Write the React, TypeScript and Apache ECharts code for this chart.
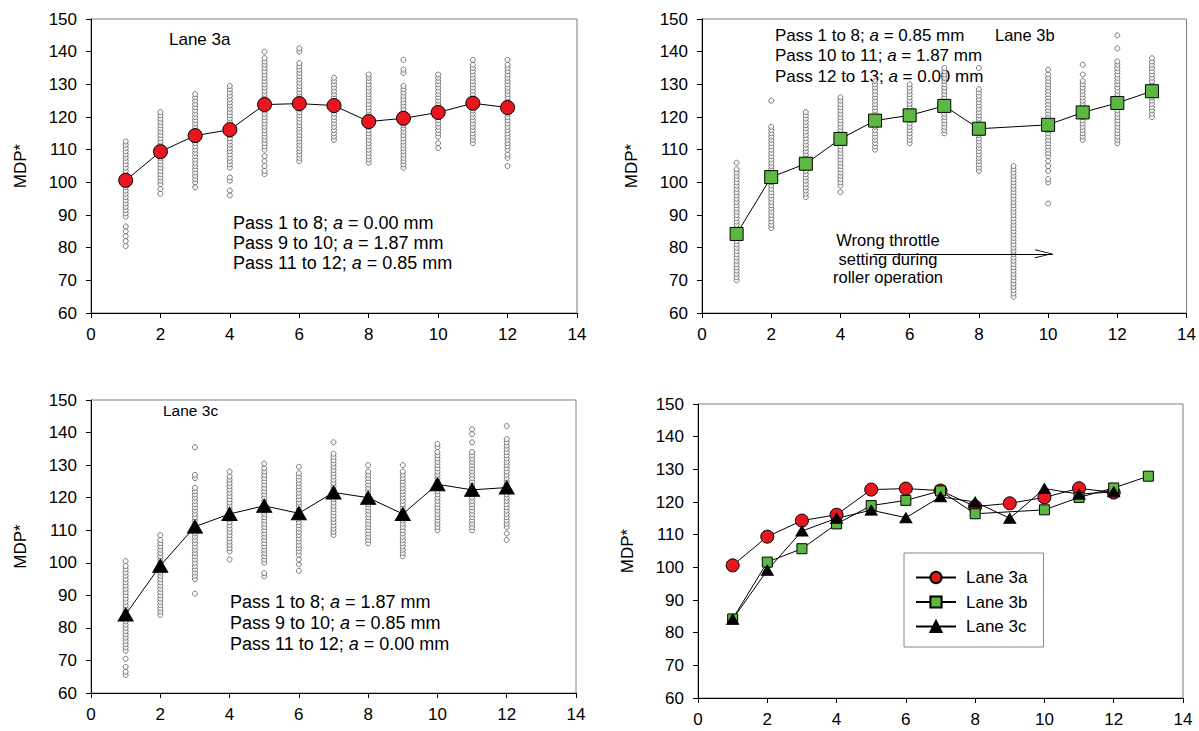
import React, { useEffect, useRef } from "react";
import * as echarts from "echarts";

// ---------- DATA ----------
const passes3a = [1, 2, 3, 4, 5, 6, 7, 8, 9, 10, 11, 12];
const mean3a = [100.6, 109.4, 114.3, 116.1, 123.8, 124.1, 123.5, 118.6, 119.6, 121.4, 124.2, 122.9];

const passes3b = [1, 2, 3, 4, 5, 6, 7, 8, 10, 11, 12, 13];
const mean3b = [84.2, 101.6, 105.7, 113.3, 118.9, 120.5, 123.4, 116.4, 117.6, 121.4, 124.3, 127.9];

const passes3c = [1, 2, 3, 4, 5, 6, 7, 8, 9, 10, 11, 12];
const mean3c = [84.1, 99.1, 111.1, 115.0, 117.5, 115.2, 121.6, 120.0, 115.0, 124.1, 122.4, 123.1];

// individual MDP* readings per pass (index 0 = pass 1)
const points3a: number[][] = [
  [80.5, 82, 83.5, 85, 86.5, 89.5, 90.5, 91.5, 92.5, 93.5, 94.5, 95.5, 96.5, 97.5, 98.5, 99.5, 100.5, 101.5, 102.5, 103.5, 104.5, 105.5, 106.5, 107.5, 108.5, 109.5, 110.5, 111.5, 112.5],
  [96.5, 98, 99.5, 100.5, 101.5, 102.5, 103.5, 104.5, 105.5, 106.5, 107.5, 108.5, 109.5, 110.5, 111.5, 112.5, 113.5, 114.5, 115.5, 116.5, 117.5, 118.5, 119.5, 120.5, 121.5],
  [98.5, 100, 101, 102, 103, 104, 105, 106, 107, 108, 109, 110, 111, 112, 113, 114, 115, 116, 117, 118, 119, 120, 121, 122, 123, 124, 125, 126, 127],
  [96, 97.5, 100.5, 101.5, 104.5, 105.5, 106.5, 107.5, 108.5, 109.5, 110.5, 111.5, 112.5, 113.5, 114.5, 115.5, 116.5, 117.5, 118.5, 119.5, 120.5, 121.5, 122.5, 123.5, 124.5, 125.5, 126.5, 127.5, 128.5, 129.5],
  [102.5, 103.5, 105, 106.5, 108, 110, 111, 112, 113, 114, 115, 116, 117, 118, 119, 120, 121, 122, 123, 124, 125, 126, 127, 128, 129, 130, 131, 132, 133, 134, 135, 136, 137, 138, 140],
  [106.5, 107.5, 108.5, 109.5, 110.5, 111.5, 112.5, 113.5, 114.5, 115.5, 116.5, 117.5, 118.5, 119.5, 120.5, 121.5, 122.5, 123.5, 124.5, 125.5, 126.5, 127.5, 128.5, 129.5, 130.5, 131.5, 132.5, 133.5, 134.5, 135.5, 136.5, 140, 141],
  [113, 114, 115, 116, 117, 118, 119, 120, 121, 122, 123, 124, 125, 126, 127, 128, 129, 130, 131, 132],
  [106, 107, 108, 109, 110, 111, 112, 113, 114, 115, 116, 117, 118, 119, 120, 121, 122, 123, 124, 125, 126, 127, 128, 129, 130, 131, 132, 133],
  [104.5, 105.5, 106.5, 107.5, 108.5, 109.5, 110.5, 111.5, 112.5, 113.5, 114.5, 115.5, 116.5, 117.5, 118.5, 119.5, 120.5, 121.5, 122.5, 123.5, 124.5, 125.5, 126.5, 127.5, 128.5, 129.5, 133.5, 134.5, 137.5],
  [110.5, 112, 114, 115, 116, 117, 118, 119, 120, 121, 122, 123, 124, 125, 126, 127, 128, 129, 130, 131, 132, 133],
  [112, 113, 114, 115, 116, 117, 118, 119, 120, 121, 122, 123, 124, 125, 126, 127, 128, 129, 130, 131, 132, 133, 134, 135, 136, 137.5],
  [105, 107.5, 108.5, 110, 111, 112, 113, 114, 115, 116, 117, 118, 119, 120, 121, 122, 123, 124, 125, 126, 127, 128, 129, 130, 131, 132, 133, 134, 135, 136, 137.5],
];

const points3b: number[][] = [
  [70, 71, 72, 73, 74, 75, 76, 77, 78, 79, 80, 81, 82, 83, 84, 85, 86, 87, 88, 89, 90, 91, 92, 93, 94, 95, 96, 97, 98, 99, 100, 101, 102, 103, 104, 106],
  [86, 87, 88, 89, 90, 91, 92, 93, 94, 95, 96, 97, 98, 99, 100, 101, 102, 103, 104, 105, 106, 107, 108, 109, 110, 111, 112, 113, 114, 115, 116, 117, 125],
  [95.5, 96.5, 97.5, 98.5, 99.5, 100.5, 101.5, 102.5, 103.5, 104.5, 105.5, 106.5, 107.5, 108.5, 109.5, 110.5, 111.5, 112.5, 113.5, 114.5, 115.5, 116.5, 117.5, 118.5, 119.5, 120.5, 121.5],
  [97, 99, 100, 101, 102, 103, 104, 105, 106, 107, 108, 109, 110, 111, 112, 113, 114, 115, 116, 117, 118, 119, 120, 121, 122, 123, 124, 125, 126],
  [110, 111, 112, 113, 114, 115, 116, 117, 118, 119, 120, 121, 122, 123, 124, 125, 126, 127, 128, 129, 130, 131],
  [112, 113, 114, 115, 116, 117, 118, 119, 120, 121, 122, 123, 124, 125, 126, 127, 128, 129, 130],
  [115, 116, 117, 118, 119, 120, 121, 122, 123, 124, 125, 126, 127, 128, 129, 130, 131, 132, 133, 134, 135],
  [103.5, 104.5, 105.5, 106.5, 107.5, 108.5, 109.5, 110.5, 111.5, 112.5, 113.5, 114.5, 115.5, 116.5, 117.5, 118.5, 119.5, 120.5, 121.5, 122.5, 123.5, 124.5, 125.5, 126.5, 127.5, 128.5, 135],
  [65, 66, 67, 68, 69, 70, 71, 72, 73, 74, 75, 76, 77, 78, 79, 80, 81, 82, 83, 84, 85, 86, 87, 88, 89, 90, 91, 92, 93, 94, 95, 96, 97, 98, 99, 100, 101, 102, 103, 104, 105],
  [93.5, 100, 101, 103.5, 105, 106.5, 108, 109, 110, 111, 112, 113, 114, 115, 116, 117, 118, 119, 120, 121, 122, 123, 124, 125, 126, 127, 128, 129, 130, 131, 132, 133, 134.5],
  [113, 114, 115, 116, 117, 118, 119, 120, 121, 122, 123, 124, 125, 126, 127, 128, 129, 130, 131, 133, 136],
  [112, 113, 114, 115, 116, 117, 118, 119, 120, 121, 122, 123, 124, 125, 126, 127, 128, 129, 130, 131, 132, 133, 134, 135, 136, 137, 141, 145],
  [120, 121, 122, 123, 124, 125, 126, 127, 128, 129, 130, 131, 132, 133, 134, 135, 136, 137, 138],
];

const points3c: number[][] = [
  [65.5, 66.5, 68, 70.5, 73, 74, 75, 76, 77, 78, 79, 80, 81, 82, 83, 84, 85, 86, 87, 88, 89, 90, 91, 92, 93, 94, 95, 96, 97, 98, 99, 100.5],
  [84, 85, 86, 87, 88, 89, 90, 91, 92, 93, 94, 95, 96, 97, 98, 99, 100, 101, 102, 103, 104, 105, 106, 107, 108.5],
  [90.5, 95, 96, 97, 98, 99, 100, 101, 102, 103, 104, 105, 106, 107, 108, 109, 110, 111, 112, 113, 114, 115, 116, 117, 118, 119, 120, 121, 122, 123, 126, 127, 135.5],
  [101, 103.5, 104.5, 105.5, 106.5, 107.5, 108.5, 109.5, 110.5, 111.5, 112.5, 113.5, 114.5, 115.5, 116.5, 117.5, 118.5, 119.5, 120.5, 121.5, 122.5, 123.5, 124.5, 125.5, 126.5, 128],
  [95.8, 96.8, 100, 101, 102, 103, 104, 105, 106, 107, 108, 109, 110, 111, 112, 113, 114, 115, 116, 117, 118, 119, 120, 121, 122, 123, 124, 125, 126, 127, 128, 129, 130.5],
  [97.5, 99.5, 101, 102.5, 103.5, 104.5, 105.5, 106.5, 107.5, 108.5, 109.5, 110.5, 111.5, 112.5, 113.5, 114.5, 115.5, 116.5, 117.5, 118.5, 119.5, 120.5, 121.5, 122.5, 123.5, 124.5, 125.5, 126.5, 127.5, 129.5],
  [108.5, 109.5, 110.5, 111.5, 112.5, 113.5, 114.5, 115.5, 116.5, 117.5, 118.5, 119.5, 120.5, 121.5, 122.5, 123.5, 124.5, 125.5, 126.5, 127.5, 128.5, 129.5, 130.5, 131.5, 132.5, 133.5, 137],
  [106, 107, 108, 109, 110, 111, 112, 113, 114, 115, 116, 117, 118, 119, 120, 121, 122, 123, 124, 125, 126, 127, 128, 130],
  [102, 103, 104, 105, 106, 107, 108, 109, 110, 111, 112, 113, 114, 115, 116, 117, 118, 119, 120, 121, 122, 123, 124, 125, 126, 127, 128, 130],
  [110, 111, 112, 113, 114, 115, 116, 117, 118, 119, 120, 121, 122, 123, 124, 125, 126, 127, 128, 129, 130, 131, 132, 133, 134, 135.5, 136.5],
  [110, 111, 112, 113, 114, 115, 116, 117, 118, 119, 120, 121, 122, 123, 124, 125, 126, 127, 128, 129, 130, 131, 132, 133, 134, 137, 139.5, 141],
  [107, 109, 111, 112, 113, 114, 115, 116, 117, 118, 119, 120, 121, 122, 123, 124, 125, 126, 127, 128, 129, 130, 131, 132, 133, 134, 135, 136, 137, 138, 142],
];

// annotation texts
const notes3a: [string, string][] = [["Pass 1 to 8; ", " = 0.00 mm"], ["Pass 9 to 10; ", " = 1.87 mm"], ["Pass 11 to 12; ", " = 0.85 mm"]];
const notes3b: [string, string][] = [["Pass 1 to 8; ", " = 0.85 mm"], ["Pass 10 to 11; ", " = 1.87 mm"], ["Pass 12 to 13; ", " = 0.00 mm"]];
const notes3c: [string, string][] = [["Pass 1 to 8; ", " = 1.87 mm"], ["Pass 9 to 10; ", " = 0.85 mm"], ["Pass 11 to 12; ", " = 0.00 mm"]];
const throttleNote = ["Wrong throttle", "setting during", "roller operation"];
// arrow (data coordinates of panel b)
const arrowY = 78.1;
const arrowFrom = 4.95;
const arrowTo = 10.14;

const FONT = "'Liberation Sans', Arial, sans-serif";
const RED = "#e8161e";
const GREEN = "#5db843";

function toPairs(xs: number[], ys: number[]) {
  return xs.map((x, i) => [x, ys[i]]);
}
function scatterPairs(arr: number[][]) {
  const out: number[][] = [];
  arr.forEach((vals, i) => vals.forEach((v) => out.push([i + 1, v])));
  return out;
}

function richNotes(lines: [string, string][]) {
  return lines.map(([a, b]) => `{n|${a}}{i|a}{n|${b}}`).join("\n");
}

export default function App() {
  const ref = useRef<HTMLDivElement>(null);
  useEffect(() => {
    if (!ref.current) return;
    const chart = echarts.init(ref.current, undefined, { renderer: "svg" });
    const grids = [
      { left: 91, top: 19, width: 486, height: 294 },
      { left: 702, top: 19, width: 485, height: 294 },
      { left: 91, top: 400, width: 485, height: 293 },
      { left: 698, top: 404, width: 485, height: 294 },
    ];
    const xAxes = grids.map((_, i) => ({
      type: "value",
      gridIndex: i,
      min: 0,
      max: 14,
      interval: 2,
      axisLine: { show: true, onZero: false, lineStyle: { color: "#000", width: 1 } },
      axisTick: { show: true, length: 5, lineStyle: { color: "#000" } },
      axisLabel: { fontSize: 17, fontFamily: FONT, color: "#000", margin: 13 },
      splitLine: { show: false },
    }));
    const yAxes = grids.map((_, i) => ({
      type: "value",
      gridIndex: i,
      min: 60,
      max: 150,
      interval: 10,
      name: "MDP*",
      nameLocation: "middle",
      nameGap: 62,
      nameTextStyle: { fontSize: 17, fontFamily: FONT, color: "#000" },
      axisLine: { show: true, onZero: false, lineStyle: { color: "#000", width: 1 } },
      axisTick: { show: true, length: 5, lineStyle: { color: "#000" } },
      axisLabel: { fontSize: 17, fontFamily: FONT, color: "#000", margin: 14 },
      splitLine: { show: false },
    }));

    const scatterStyle = {
      type: "scatter",
      symbol: "circle",
      symbolSize: 5,
      itemStyle: { color: "#fff", borderColor: "#333", borderWidth: 0.8 },
      emphasis: { disabled: true },
      silent: true,
      z: 2,
    };
    const lineBase = {
      type: "line",
      showSymbol: true,
      showAllSymbol: true,
      lineStyle: { color: "#000", width: 1 },
      emphasis: { disabled: true },
      z: 3,
    };

    const chevron = "path://M0,18 L4.5,0 L9,18 L8,18 L4.5,3 L1,18 Z";

    const series: any[] = [
      { ...scatterStyle, name: "pts3a", xAxisIndex: 0, yAxisIndex: 0, data: scatterPairs(points3a) },
      { ...lineBase, name: "mean3a", xAxisIndex: 0, yAxisIndex: 0, data: toPairs(passes3a, mean3a), symbol: "circle", symbolSize: 14, itemStyle: { color: RED, borderColor: "#000", borderWidth: 1 } },
      { ...scatterStyle, name: "pts3b", xAxisIndex: 1, yAxisIndex: 1, data: scatterPairs(points3b) },
      {
        ...lineBase, name: "mean3b", xAxisIndex: 1, yAxisIndex: 1, data: toPairs(passes3b, mean3b), symbol: "rect", symbolSize: 13, itemStyle: { color: GREEN, borderColor: "#000", borderWidth: 1 },
        markLine: {
          silent: true,
          symbol: ["none", "none"],
          lineStyle: { color: "#000", width: 1, type: "solid" },
          label: { show: false },
          emphasis: { disabled: true },
          data: [
            [{ coord: [arrowFrom, arrowY] }, { coord: [arrowTo, arrowY] }],
            [{ coord: [arrowTo - 0.27, arrowY], symbol: "none" }, { coord: [arrowTo - 0.26, arrowY], symbol: chevron, symbolSize: [9, 18] }],
          ],
        },
      },
      { ...scatterStyle, name: "pts3c", xAxisIndex: 2, yAxisIndex: 2, data: scatterPairs(points3c) },
      { ...lineBase, name: "mean3c", xAxisIndex: 2, yAxisIndex: 2, data: toPairs(passes3c, mean3c), symbol: "triangle", symbolSize: [15, 13], itemStyle: { color: "#000", borderColor: "#000", borderWidth: 1 } },
      { ...lineBase, name: "Lane 3a", xAxisIndex: 3, yAxisIndex: 3, data: toPairs(passes3a, mean3a), symbol: "circle", symbolSize: 13, itemStyle: { color: RED, borderColor: "#000", borderWidth: 1 } },
      { ...lineBase, name: "Lane 3b", xAxisIndex: 3, yAxisIndex: 3, data: toPairs(passes3b, mean3b), symbol: "rect", symbolSize: 10, itemStyle: { color: GREEN, borderColor: "#000", borderWidth: 1 } },
      { ...lineBase, name: "Lane 3c", xAxisIndex: 3, yAxisIndex: 3, data: toPairs(passes3c, mean3c), symbol: "triangle", symbolSize: [12, 10], itemStyle: { color: "#000", borderColor: "#000", borderWidth: 1 } },
    ];

    const noteRich = (size: number, lh: number) => ({
      n: { fontSize: size, fontFamily: FONT, fill: "#000", lineHeight: lh },
      i: { fontSize: size, fontFamily: FONT, fill: "#000", fontStyle: "italic", lineHeight: lh },
    });

    const graphic: any[] = [
      { type: "text", x: 169, y: 39, style: { text: "Lane 3a", fontSize: 17, fontFamily: FONT, fill: "#000", verticalAlign: "middle" } },
      { type: "text", x: 233, y: 213, style: { text: richNotes(notes3a), rich: noteRich(18, 20), verticalAlign: "top" } },
      { type: "text", x: 995, y: 35, style: { text: "Lane 3b", fontSize: 16.5, fontFamily: FONT, fill: "#000", verticalAlign: "middle" } },
      { type: "text", x: 775, y: 25, style: { text: richNotes(notes3b), rich: noteRich(17, 20.5), verticalAlign: "top" } },
      { type: "text", x: 888, y: 231, style: { text: throttleNote.join("\n"), fontSize: 16.5, fontFamily: FONT, fill: "#000", lineHeight: 18.5, align: "center", verticalAlign: "top" } },
      { type: "text", x: 163, y: 410, style: { text: "Lane 3c", fontSize: 15.5, fontFamily: FONT, fill: "#000", verticalAlign: "middle" } },
      { type: "text", x: 230, y: 591, style: { text: richNotes(notes3c), rich: noteRich(18, 21), verticalAlign: "top" } },
    ];

    chart.setOption({
      animation: false,
      backgroundColor: "#fff",
      grid: grids.map((g) => ({ ...g, show: true, borderColor: "#808080", borderWidth: 1, backgroundColor: "transparent" })),
      xAxis: xAxes,
      yAxis: yAxes,
      legend: {
        data: ["Lane 3a", "Lane 3b", "Lane 3c"],
        orient: "vertical",
        left: 904,
        top: 553,
        itemWidth: 40,
        itemHeight: 14,
        itemGap: 7.5,
        padding: [16, 16, 12, 11],
        borderColor: "#888",
        borderWidth: 1,
        backgroundColor: "#fff",
        selectedMode: false,
        textStyle: { fontSize: 17, fontFamily: FONT, color: "#000", padding: [0, 0, 0, 5] },
      },
      series,
      graphic,
    });
    return () => chart.dispose();
  }, []);
  return <div ref={ref} style={{ position: "absolute", left: 0, top: 0, width: 1199, height: 731 }} />;
}
